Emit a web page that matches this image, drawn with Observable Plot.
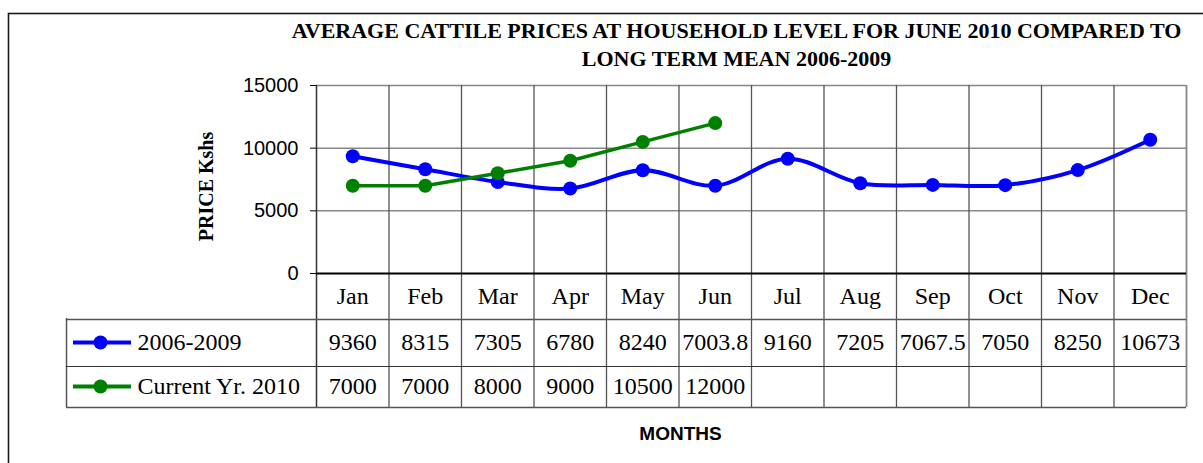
<!DOCTYPE html>
<html>
<head>
<meta charset="utf-8">
<script src="https://cdn.jsdelivr.net/npm/d3@7"></script>
<script src="https://cdn.jsdelivr.net/npm/@observablehq/plot@0.6"></script>
<style>
  html, body { margin: 0; padding: 0; background: #fff; }
  #chart svg { display: block; }
</style>
</head>
<body>
<div id="chart"></div>
<script>
// ---- data ----
const months = ["Jan", "Feb", "Mar", "Apr", "May", "Jun", "Jul", "Aug", "Sep", "Oct", "Nov", "Dec"];
const mean2006_2009 = [9360, 8315, 7305, 6780, 8240, 7003.8, 9160, 7205, 7067.5, 7050, 8250, 10673];
const current2010 = [7000, 7000, 8000, 9000, 10500, 12000];
const seriesNames = ["2006-2009", "Current Yr. 2010"];
const yTicks = [0, 5000, 10000, 15000];
const titleLines = [
  "AVERAGE CATTILE PRICES AT HOUSEHOLD LEVEL FOR JUNE 2010 COMPARED TO",
  "LONG TERM MEAN 2006-2009"
];
const yLabel = "PRICE Kshs";
const xLabel = "MONTHS";

// ---- derived tables ----
const rows = months.map((m, i) => ({i, month: m, mean: mean2006_2009[i], cur: current2010[i]}));
const curRows = rows.filter(d => d.cur != null);
const bounds = months.slice(1).map((m, i) => i + 0.5);

const BLUE = "#0000ff", GREEN = "#008000";
const serif = "Liberation Serif", sans = "Liberation Sans";

// table geometry (pixels relative to the frame bottom)
const rowMonth = 23, rowMean = 69, rowCur = 113;
const lineA = 46, lineB = 93, tableBottom = 134;
const tableLeftExtra = 250;
const mid = {lineAnchor: "middle"};

const chart = Plot.plot({
  width: 1203,
  height: 463,
  marginLeft: 316,
  marginRight: 17,
  marginTop: 85,
  marginBottom: 190,
  x: {type: "linear", domain: [-0.5, 11.5], axis: null},
  y: {domain: [0, 15000], axis: null},
  style: {background: "#fff", fontFamily: serif},
  marks: [
    // outer frame of the chart object
    Plot.frame({insetLeft: -308, insetTop: -72, insetRight: -60, insetBottom: -300, stroke: "#1a1a1a", strokeWidth: 1.6}),
    // horizontal gridlines
    Plot.ruleY(yTicks.filter(d => d > 0), {stroke: "#888", strokeWidth: 1.5}),
    // vertical gridlines through the data table
    Plot.ruleX(bounds, {stroke: "#555", strokeWidth: 1.3, insetBottom: -tableBottom}),
    // right border
    Plot.ruleX([11.5], {stroke: "#888", strokeWidth: 1.8, insetBottom: -tableBottom}),
    // left axis line
    Plot.ruleX([-0.5], {stroke: "#333", strokeWidth: 1.5, insetBottom: -tableBottom}),
    // table left edge
    Plot.ruleX([-0.5], {stroke: "#555", strokeWidth: 1.5, dx: -tableLeftExtra, insetTop: 188 + lineA - 1, insetBottom: -tableBottom}),
    // table horizontal lines
    Plot.ruleY([0], {stroke: "#555", strokeWidth: 1.5, dy: lineA, insetLeft: -tableLeftExtra}),
    Plot.ruleY([0], {stroke: "#333", strokeWidth: 1.2, dy: lineB, insetLeft: -tableLeftExtra}),
    Plot.ruleY([0], {stroke: "#555", strokeWidth: 1.5, dy: tableBottom, insetLeft: -tableLeftExtra}),
    // x axis line
    Plot.ruleY([0], {stroke: "#000", strokeWidth: 2}),
    // y axis
    Plot.axisY({ticks: yTicks, tickSize: 6, tickPadding: 12, tickFormat: d3.format("d"),
      fontSize: 20, fontFamily: sans, stroke: "#000", label: null, color: "#000"}),
    Plot.text([yLabel], {frameAnchor: "left", rotate: -90, dx: -110, dy: 7, textAnchor: "middle", ...mid,
      fontSize: 20, fontWeight: "bold", fill: "#000"}),
    // series
    Plot.line(rows, {x: "i", y: "mean", curve: "catmull-rom", stroke: BLUE, strokeWidth: 4}),
    Plot.dot(rows, {x: "i", y: "mean", r: 7, fill: BLUE}),
    Plot.line(curRows, {x: "i", y: "cur", stroke: GREEN, strokeWidth: 3.5}),
    Plot.dot(curRows, {x: "i", y: "cur", r: 7, fill: GREEN}),
    // table: month row
    Plot.text(rows, {x: "i", text: "month", frameAnchor: "bottom", dy: rowMonth, ...mid, fontSize: 24, fill: "#000"}),
    // table: values
    Plot.text(rows, {x: "i", text: d => String(d.mean), frameAnchor: "bottom", dy: rowMean, ...mid, fontSize: 24, fill: "#000"}),
    Plot.text(curRows, {x: "i", text: d => String(d.cur), frameAnchor: "bottom", dy: rowCur, ...mid, fontSize: 24, fill: "#000"}),
    // table: legend keys
    Plot.ruleY([0], {stroke: BLUE, strokeWidth: 4, dy: rowMean, insetLeft: -243, insetRight: 1055}),
    Plot.dot([0], {x: -0.5, y: 0, dx: -216, dy: rowMean, r: 7, fill: BLUE}),
    Plot.ruleY([0], {stroke: GREEN, strokeWidth: 4, dy: rowCur, insetLeft: -243, insetRight: 1055}),
    Plot.dot([0], {x: -0.5, y: 0, dx: -216, dy: rowCur, r: 7, fill: GREEN}),
    Plot.text([seriesNames[0]], {frameAnchor: "bottom-left", dx: -179, dy: rowMean, textAnchor: "start", ...mid, fontSize: 24, fill: "#000"}),
    Plot.text([seriesNames[1]], {frameAnchor: "bottom-left", dx: -179, dy: rowCur, textAnchor: "start", ...mid, fontSize: 24, fill: "#000"}),
    // x label
    Plot.text([xLabel], {frameAnchor: "bottom", dx: -71, dy: 160, ...mid, fontSize: 19, fontWeight: "bold",
      fontFamily: sans, fill: "#000"}),
    // title
    Plot.text([titleLines[0]], {frameAnchor: "top", dx: -15, dy: -55, ...mid, fontSize: 22, fontWeight: "bold", fill: "#000"}),
    Plot.text([titleLines[1]], {frameAnchor: "top", dx: -15, dy: -27, ...mid, fontSize: 22, fontWeight: "bold", fill: "#000"})
  ]
});
document.getElementById("chart").appendChild(chart);
</script>
</body>
</html>
